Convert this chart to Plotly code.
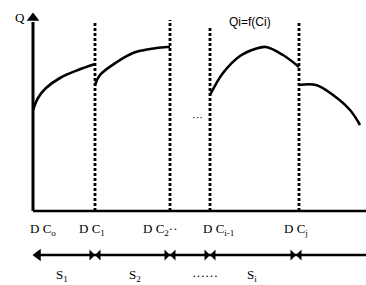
import plotly.graph_objects as go

# ---- data (x in layout units along the C axis, Q in value units, axis origin Q=0) ----
dc_labels = ["D C<sub>o</sub>", "D C<sub>1</sub>", "D C<sub>2</sub>··", "D C<sub>i-1</sub>", "D C<sub>j</sub>"]
dc_label_x = [43, 92, 160, 218, 296]
boundary_x = [95, 170, 210, 299]
boundary_top = [188, 191, 184, 189]

seg1_x = [33, 38, 46, 60, 78, 95]
seg1_q = [101, 113, 123, 133, 141, 147]
seg2_x = [95, 100, 117, 133, 150, 167, 170]
seg2_q = [126, 136, 149, 158, 162, 164, 164]
seg3_x = [210, 223, 240, 255, 266, 283, 299]
seg3_q = [116, 138, 155, 162, 164, 156, 144]
seg4_x = [299, 316, 333, 350, 360]
seg4_q = [126, 126, 116, 101, 86]

s_labels = ["S<sub>1</sub>", "S<sub>2</sub>", "······", "S<sub>i</sub>"]
s_label_x = [62, 135, 205, 252]
span_marks_x = [95, 170, 210, 296]

X0, X1 = 0, 366
Q_AXIS = 211  # pixel row of Q=0
def q(ypix):
    return Q_AXIS - ypix

fig = go.Figure()

serif = "Liberation Serif"
sans = "Liberation Sans"

# curve segments
for xs, qs in [(seg1_x, seg1_q), (seg2_x, seg2_q), (seg3_x, seg3_q), (seg4_x, seg4_q)]:
    fig.add_trace(go.Scatter(x=xs, y=qs, mode="lines",
                             line=dict(color="black", width=2.6, shape="spline", smoothing=1.0),
                             hoverinfo="skip", showlegend=False))

# dotted boundaries
for bx, top in zip(boundary_x, boundary_top):
    fig.add_trace(go.Scatter(x=[bx, bx], y=[0, top], mode="lines",
                             line=dict(color="black", width=2.8, dash="3px,2px"),
                             hoverinfo="skip", showlegend=False))

# x axis line
fig.add_shape(type="line", x0=33, x1=366, y0=0, y1=0, line=dict(color="black", width=2.6))
# y axis with arrow
fig.add_shape(type="line", x0=33, x1=33, y0=0, y1=q(22), line=dict(color="black", width=3))
fig.add_trace(go.Scatter(x=[33], y=[q(18)], mode="markers",
                         marker=dict(symbol="triangle-up", size=11, color="black"),
                         hoverinfo="skip", showlegend=False))

# span line with arrow marks
yrow = q(255)
fig.add_shape(type="line", x0=36, x1=366, y0=yrow, y1=yrow, line=dict(color="black", width=2.4))
fig.add_trace(go.Scatter(x=[38], y=[yrow], mode="markers",
                         marker=dict(symbol="triangle-left", size=11, color="black"),
                         hoverinfo="skip", showlegend=False))
fig.add_trace(go.Scatter(x=span_marks_x, y=[yrow] * len(span_marks_x), mode="markers",
                         marker=dict(symbol="bowtie", size=11, color="black"),
                         hoverinfo="skip", showlegend=False))

annotations = []
annotations.append(dict(x=20, y=q(17), text="Q", showarrow=False,
                        font=dict(family=serif, size=13, color="black")))
annotations.append(dict(x=250, y=q(22), text="Qi=f(Ci)", showarrow=False,
                        font=dict(family=sans, size=12, color="black")))
annotations.append(dict(x=197, y=q(117), text="···", showarrow=False,
                        font=dict(family=sans, size=11, color="black")))
for lx, lab in zip(dc_label_x, dc_labels):
    annotations.append(dict(x=lx, y=q(229), text=lab, showarrow=False,
                            font=dict(family=serif, size=13, color="black")))
for lx, lab in zip(s_label_x, s_labels):
    annotations.append(dict(x=lx, y=q(275), text=lab, showarrow=False,
                            font=dict(family=serif, size=13, color="black")))

fig.update_layout(
    width=366, height=285,
    margin=dict(l=0, r=0, t=0, b=0),
    paper_bgcolor="white", plot_bgcolor="white",
    xaxis=dict(range=[X0, X1], visible=False, fixedrange=True),
    yaxis=dict(range=[q(285), q(0)], visible=False, fixedrange=True),
    annotations=annotations,
    showlegend=False,
)

fig.write_html("out.html", config={"displayModeBar": False},
               post_script="document.body.style.margin='0';document.body.style.overflow='hidden';")
